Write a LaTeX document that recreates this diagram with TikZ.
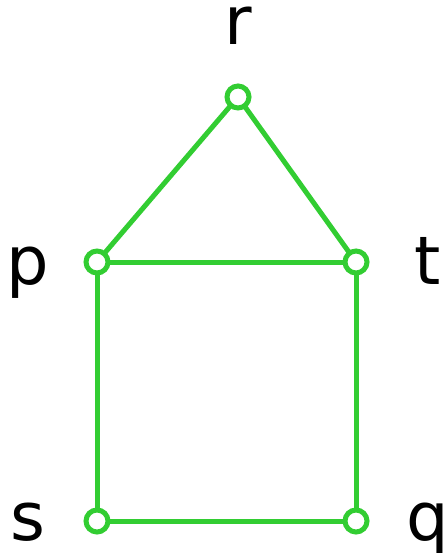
\documentclass[tikz,border=0pt]{standalone}
\usepackage{fontspec}
\setmainfont{DejaVu Sans}
\usetikzlibrary{backgrounds}
\definecolor{vertexgreen}{RGB}{50,205,50}

\begin{document}
\begin{tikzpicture}[x=1pt,y=-1pt,
  vertex/.style={circle,draw=vertexgreen,fill=white,line width=5pt,
    inner sep=0pt,minimum size=22pt},
  edge/.style={draw=vertexgreen,line width=5pt},
  vlabel/.style={anchor=base,font=\fontsize{67}{70}\selectfont}]
\useasboundingbox (0,0) rectangle (443,553);
  % vertices
  \node[vertex] (r) at (238,97) {};
  \node[vertex] (p) at (97,262) {};
  \node[vertex] (t) at (356,262) {};
  \node[vertex] (s) at (97,521) {};
  \node[vertex] (q) at (356,521) {};
  % edges (behind the vertices)
  \begin{scope}[on background layer]
  \draw[edge] (r.center) -- (p.center);
  \draw[edge] (r.center) -- (t.center);
  \draw[edge] (p.center) -- (t.center);
  \draw[edge] (p.center) -- (s.center);
  \draw[edge] (t.center) -- (q.center);
  \draw[edge] (s.center) -- (q.center);
  \end{scope}
  % labels
  \node[vlabel] (rl) at (238,45) {r};
  \node[vlabel] (pl) at (28,284) {p};
  \node[vlabel] (tl) at (428,284) {t};
  \node[vlabel] (sl) at (28,540) {s};
  \node[vlabel] (ql) at (428,540) {q};
\end{tikzpicture}
\end{document}
